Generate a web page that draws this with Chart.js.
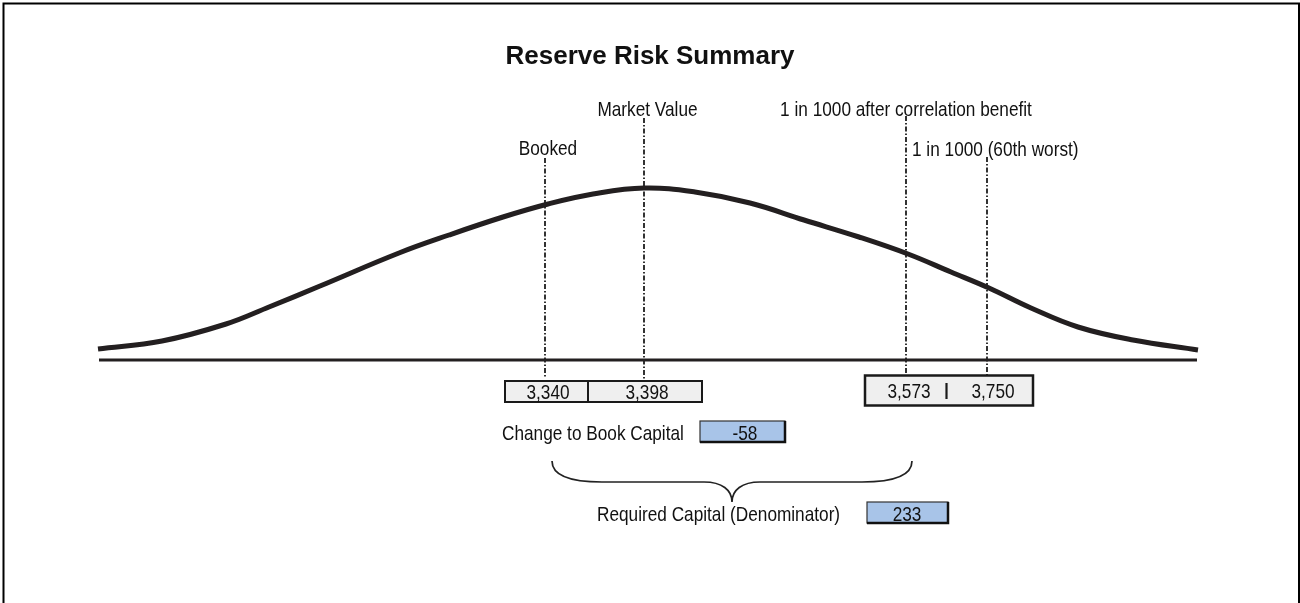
<!DOCTYPE html>
<html>
<head>
<meta charset="utf-8">
<script src="https://cdn.jsdelivr.net/npm/chart.js@4.4.0/dist/chart.umd.min.js"></script>
<style>
  html, body { margin: 0; padding: 0; background: #fff; }
  canvas { display: block; }
</style>
</head>
<body>
<canvas id="riskChart" width="1300" height="603"></canvas>
<script>
// distribution curve (x = position along the outcomes, y = height)
const curveX = [0, 64, 128, 171, 222, 301, 351, 405, 450, 495, 546, 597, 652, 706, 761, 810, 853, 891, 933, 980, 1035, 1100];
const curveY = [11, 19, 36, 53, 74, 107, 125, 143, 156, 166, 172, 168, 157, 140, 123, 106, 88, 72, 52, 33, 20, 10];

// marker lines
const markerNames = ['Booked', 'Market Value', '1 in 1000 after correlation benefit', '1 in 1000 (60th worst)'];
const markerX = [447, 546, 808, 889];
const markerValues = [3340, 3398, 3573, 3750];

const bookChange = -58;
const requiredCapital = 233;

// line extents (in y units) and label placement for each marker
const markerLayout = [
  { top: 202, bottom: -18, dx: 3, dy: -3, align: 'center' },
  { top: 242, bottom: -21, dx: 3.5, dy: -2, align: 'center' },
  { top: 244, bottom: -16, dx: 0, dy: 0, align: 'center' },
  { top: 203, bottom: -16, dx: -75, dy: -1, align: 'left' }
];

const fmt = v => v.toLocaleString('en-US');
const FS = 21;

const narrowOK = (() => {
  const c = document.createElement('canvas').getContext('2d');
  c.font = '20px monospace';
  const a = c.measureText('Market Value abc').width;
  c.font = '20px "Liberation Sans Narrow", monospace';
  const b = c.measureText('Market Value abc').width;
  return a !== b;
})();

function drawText(ctx, text, x, y, size, align) {
  ctx.save();
  ctx.fillStyle = '#111';
  ctx.textBaseline = 'alphabetic';
  ctx.textAlign = align;
  if (narrowOK) {
    ctx.font = size + 'px "Liberation Sans Narrow"';
    ctx.fillText(text, x, y);
  } else {
    ctx.font = size + 'px "Liberation Sans", Arial, sans-serif';
    ctx.translate(x, y);
    ctx.scale(0.82, 1);
    ctx.fillText(text, 0, 0);
  }
  ctx.restore();
}

function greyBox(ctx, x1, y1, x2, y2, lw) {
  ctx.save();
  ctx.fillStyle = '#efefef';
  ctx.fillRect(x1, y1, x2 - x1, y2 - y1);
  ctx.strokeStyle = '#1a1a1a';
  ctx.lineWidth = lw;
  ctx.strokeRect(x1, y1, x2 - x1, y2 - y1);
  ctx.restore();
}

function blueBox(ctx, x1, y1, x2, y2) {
  ctx.save();
  ctx.fillStyle = '#a8c4e8';
  ctx.fillRect(x1, y1, x2 - x1, y2 - y1);
  ctx.strokeStyle = '#333';
  ctx.lineWidth = 1.2;
  ctx.strokeRect(x1, y1, x2 - x1, y2 - y1);
  ctx.strokeStyle = '#111';
  ctx.lineWidth = 2.5;
  ctx.beginPath();
  ctx.moveTo(x2, y1);
  ctx.lineTo(x2, y2);
  ctx.lineTo(x1, y2);
  ctx.stroke();
  ctx.restore();
}

const annotations = {
  id: 'annotations',
  afterDraw(chart) {
    const ctx = chart.ctx;
    const xs = chart.scales.x, ys = chart.scales.y;
    const px = markerX.map(v => xs.getPixelForValue(v));

    // frame
    ctx.save();
    ctx.strokeStyle = '#000';
    ctx.lineWidth = 2;
    ctx.strokeRect(3.5, 3.5, 1295.5, 700);
    ctx.restore();

    // title
    ctx.save();
    ctx.fillStyle = '#111';
    ctx.font = 'bold 26px "Liberation Sans", Arial, sans-serif';
    ctx.textAlign = 'center';
    ctx.fillText('Reserve Risk Summary', 650, 64);
    ctx.restore();

    // marker labels
    markerNames.forEach((name, i) => {
      const l = markerLayout[i];
      drawText(ctx, name, px[i] + l.dx, ys.getPixelForValue(l.top) + l.dy, FS, l.align);
    });

    // value boxes
    greyBox(ctx, px[0] - 40, 381, px[1] + 58, 402, 2);
    ctx.save();
    ctx.strokeStyle = '#1a1a1a';
    ctx.lineWidth = 2;
    ctx.beginPath();
    ctx.moveTo(px[0] + 43, 381);
    ctx.lineTo(px[0] + 43, 402);
    ctx.stroke();
    ctx.restore();
    drawText(ctx, fmt(markerValues[0]), px[0] + 3, 399, FS, 'center');
    drawText(ctx, fmt(markerValues[1]), px[1] + 3, 399, FS, 'center');

    greyBox(ctx, px[2] - 41, 375.5, px[3] + 46, 405.5, 2.5);
    ctx.save();
    ctx.strokeStyle = '#1a1a1a';
    ctx.lineWidth = 2.2;
    ctx.beginPath();
    const mid = (px[2] + px[3]) / 2;
    ctx.moveTo(mid, 383);
    ctx.lineTo(mid, 399);
    ctx.stroke();
    ctx.restore();
    drawText(ctx, fmt(markerValues[2]), px[2] + 3, 398, FS, 'center');
    drawText(ctx, fmt(markerValues[3]), px[3] + 6, 398, FS, 'center');

    // change to book capital
    drawText(ctx, 'Change to Book Capital', 502, 440, FS, 'left');
    blueBox(ctx, 700, 421, 785, 442);
    drawText(ctx, fmt(bookChange), 745, 440, FS, 'center');

    // brace
    const bl = px[0] + 7, br = px[2] + 6, tip = 732;
    ctx.save();
    ctx.strokeStyle = '#222';
    ctx.lineWidth = 1.7;
    ctx.beginPath();
    ctx.moveTo(bl, 461);
    ctx.bezierCurveTo(bl, 476, bl + 18, 482, bl + 50, 482);
    ctx.lineTo(tip - 28, 482);
    ctx.bezierCurveTo(tip - 10, 482, tip, 490, tip, 502);
    ctx.moveTo(br, 461);
    ctx.bezierCurveTo(br, 476, br - 18, 482, br - 50, 482);
    ctx.lineTo(tip + 28, 482);
    ctx.bezierCurveTo(tip + 10, 482, tip, 490, tip, 502);
    ctx.stroke();
    ctx.restore();

    // required capital
    drawText(ctx, 'Required Capital (Denominator)', 597, 521, FS, 'left');
    blueBox(ctx, 867, 502, 948, 523);
    drawText(ctx, fmt(requiredCapital), 907, 521, FS, 'center');
  }
};

const markerSets = markerX.map((x, i) => ({
  label: markerNames[i],
  data: [{ x: x, y: markerLayout[i].top }, { x: x, y: markerLayout[i].bottom }],
  borderColor: '#000',
  borderWidth: 1.6,
  borderDash: [5, 2, 1.5, 2],
  pointRadius: 0,
  clip: false,
  order: 2
}));

new Chart(document.getElementById('riskChart'), {
  type: 'line',
  data: {
    datasets: [
      {
        label: 'Distribution',
        data: curveX.map((x, i) => ({ x: x, y: curveY[i] })),
        borderColor: '#231f20',
        borderWidth: 5,
        tension: 0.4,
        pointRadius: 0,
        clip: false,
        order: 0
      },
      {
        label: 'Base',
        data: [{ x: 1, y: 0 }, { x: 1099, y: 0 }],
        borderColor: '#231f20',
        borderWidth: 3,
        pointRadius: 0,
        clip: false,
        order: 1
      },
      ...markerSets
    ]
  },
  options: {
    responsive: false,
    animation: false,
    devicePixelRatio: 1,
    layout: { padding: { left: 98, right: 102, top: 110, bottom: 218 } },
    scales: {
      x: { type: 'linear', min: 0, max: 1100, display: false },
      y: { min: -25, max: 250, display: false }
    },
    plugins: {
      legend: { display: false },
      tooltip: { enabled: false }
    }
  },
  plugins: [annotations]
});
</script>
</body>
</html>
